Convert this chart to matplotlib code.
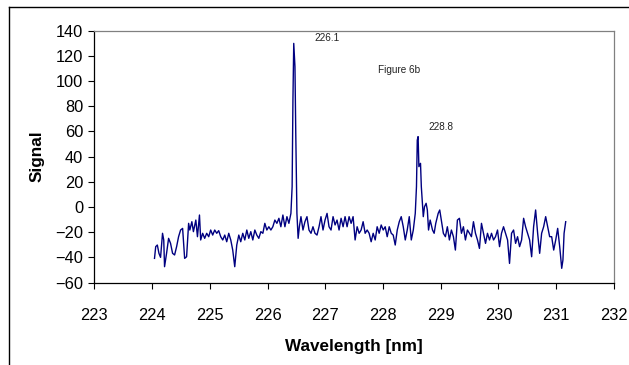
import matplotlib
matplotlib.use("Agg")
import matplotlib.pyplot as plt
from matplotlib.lines import Line2D

plt.rcParams['font.family'] = ['Liberation Sans', 'DejaVu Sans']

wavelength = [
    224.042, 224.063, 224.091, 224.119, 224.147, 224.181, 224.202, 224.216, 224.251, 224.286,
    224.320, 224.355, 224.390, 224.425, 224.459, 224.494, 224.529, 224.564, 224.598, 224.633,
    224.654, 224.689, 224.716, 224.758, 224.786, 224.821, 224.842, 224.876, 224.911, 224.946,
    224.981, 225.015, 225.050, 225.085, 225.120, 225.154, 225.189, 225.224, 225.259, 225.293,
    225.328, 225.363, 225.397, 225.432, 225.467, 225.502, 225.536, 225.571, 225.606, 225.641,
    225.675, 225.710, 225.745, 225.780, 225.814, 225.849, 225.884, 225.919, 225.953, 225.988,
    226.023, 226.058, 226.092, 226.127, 226.162, 226.197, 226.231, 226.266, 226.301, 226.336,
    226.370, 226.405, 226.426, 226.440, 226.454, 226.475, 226.489, 226.509, 226.530, 226.551,
    226.579, 226.614, 226.648, 226.683, 226.718, 226.753, 226.787, 226.822, 226.857, 226.892,
    226.926, 226.961, 226.996, 227.031, 227.065, 227.100, 227.135, 227.170, 227.204, 227.239,
    227.274, 227.309, 227.343, 227.378, 227.413, 227.448, 227.482, 227.517, 227.552, 227.587,
    227.621, 227.656, 227.691, 227.726, 227.760, 227.795, 227.830, 227.865, 227.899, 227.934,
    227.969, 228.004, 228.038, 228.073, 228.108, 228.143, 228.177, 228.212, 228.247, 228.282,
    228.316, 228.351, 228.386, 228.420, 228.455, 228.490, 228.525, 228.559, 228.580, 228.594,
    228.608, 228.622, 228.650, 228.664, 228.698, 228.719, 228.747, 228.768, 228.789, 228.817,
    228.858, 228.886, 228.914, 228.956, 228.983, 229.011, 229.046, 229.081, 229.115, 229.150,
    229.185, 229.220, 229.254, 229.289, 229.324, 229.359, 229.393, 229.428, 229.463, 229.498,
    229.532, 229.567, 229.602, 229.637, 229.671, 229.706, 229.741, 229.776, 229.810, 229.845,
    229.880, 229.915, 229.949, 229.984, 230.019, 230.053, 230.088, 230.123, 230.158, 230.192,
    230.227, 230.262, 230.297, 230.331, 230.366, 230.401, 230.436, 230.470, 230.505, 230.540,
    230.575, 230.609, 230.644, 230.679, 230.714, 230.748, 230.783, 230.818, 230.853, 230.887,
    230.922, 230.957, 230.992, 231.026, 231.061, 231.096, 231.117, 231.137, 231.165,
]

signal = [
    -40.7, -31.4, -30.1, -36.7, -39.9, -20.8, -26.1, -47.3, -36.7, -24.8,
    -28.8, -36.7, -38.0, -31.4, -23.5, -18.2, -16.9, -40.7, -39.4, -12.9,
    -18.2, -11.6, -19.5, -10.3, -23.5, -6.3, -26.1, -20.8, -24.8, -20.8,
    -23.5, -18.2, -22.2, -18.2, -20.8, -18.7, -23.5, -26.1, -22.2, -27.5,
    -20.8, -26.1, -34.1, -47.3, -30.1, -22.2, -27.5, -20.8, -26.1, -18.2,
    -24.8, -19.5, -26.1, -18.2, -22.2, -24.8, -19.5, -20.8, -12.9, -18.2,
    -15.6, -18.2, -15.6, -10.3, -12.9, -8.9, -15.6, -6.3, -15.6, -7.6,
    -12.9, -5.0, 16.2, 85.0, 129.9, 111.4, 58.5, -5.0, -24.8, -15.6,
    -7.6, -18.2, -11.6, -7.6, -18.2, -20.8, -15.6, -20.8, -22.2, -15.6,
    -7.6, -18.2, -10.3, -5.0, -15.6, -18.2, -7.6, -14.2, -10.3, -18.2,
    -8.9, -15.6, -7.6, -15.6, -7.6, -12.9, -7.6, -26.1, -15.6, -20.8,
    -18.2, -11.6, -20.8, -18.2, -20.8, -27.5, -20.8, -26.1, -15.6, -20.8,
    -14.2, -18.2, -15.6, -23.5, -15.6, -20.8, -22.2, -30.1, -18.2, -11.6,
    -7.6, -15.6, -26.1, -18.2, -7.6, -26.1, -18.2, -5.0, 16.2, 53.2,
    55.9, 32.1, 34.7, 16.2, -7.6, 0.3, 3.0, -2.3, -18.2, -10.3,
    -18.2, -20.8, -12.9, -5.0, -2.3, -10.3, -20.8, -23.5, -15.6, -26.1,
    -18.2, -23.5, -34.1, -10.3, -8.9, -20.8, -15.6, -26.1, -18.2, -20.8,
    -23.5, -11.6, -20.8, -26.1, -32.8, -12.9, -20.8, -28.8, -20.8, -26.1,
    -20.8, -26.1, -23.5, -18.2, -31.4, -20.8, -15.6, -20.8, -26.1, -44.7,
    -20.8, -18.2, -28.8, -23.5, -31.4, -26.1, -8.9, -15.6, -20.8, -26.1,
    -39.4, -15.6, -2.3, -20.8, -36.7, -20.8, -15.6, -7.6, -15.6, -23.5,
    -23.5, -34.1, -26.1, -16.9, -31.4, -48.6, -42.0, -20.8, -11.6,
]

x_ticks = [223, 224, 225, 226, 227, 228, 229, 230, 231, 232]
y_ticks = [-60, -40, -20, 0, 20, 40, 60, 80, 100, 120, 140]

annotations = [("226.1", 227.03, 134.4), ("Figure 6b", 228.27, 108.8), ("228.8", 229.0, 63.8)]

fig = plt.figure(figsize=(6.29, 3.65), dpi=100)
ax = fig.add_axes([0.150, 0.2255, 0.826, 0.6905])

ax.plot(wavelength, signal, color='#000080', linewidth=1.0)

ax.set_xlim(223, 232)
ax.set_ylim(-60, 140)
ax.set_xticks(x_ticks)
ax.set_yticks(y_ticks)
ax.tick_params(axis='x', direction='out', length=4, width=0.8, pad=14, labelsize=11.8)
ax.tick_params(axis='y', direction='out', length=4, width=0.8, pad=4, labelsize=11.8)

for side in ['left', 'bottom']:
    ax.spines[side].set_color('black')
    ax.spines[side].set_linewidth(0.9)
for side in ['top', 'right']:
    ax.spines[side].set_color('#808080')
    ax.spines[side].set_linewidth(0.9)

ax.set_xlabel('Wavelength [nm]', fontsize=12.3, fontweight='bold', labelpad=12)
ax.set_ylabel('Signal', fontsize=12.3, fontweight='bold', labelpad=8)

for txt, xv, yv in annotations:
    ax.text(xv, yv, txt, fontsize=7.2, ha='center', va='center', color='#222222')

# chart-area border (left and top visible)
fig.add_artist(Line2D([9/629, 9/629], [0, 1 - 7/365], transform=fig.transFigure, color='black', linewidth=1.0))
fig.add_artist(Line2D([9/629, 1], [1 - 7/365, 1 - 7/365], transform=fig.transFigure, color='black', linewidth=1.0))

fig.savefig('out.png', dpi=100)
